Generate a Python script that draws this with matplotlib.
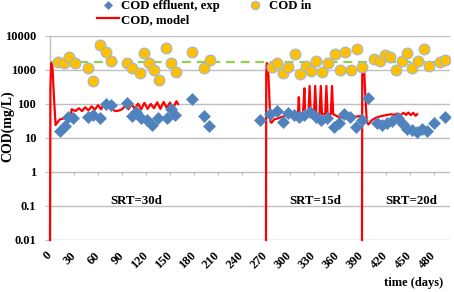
import numpy as np
import matplotlib
matplotlib.use('Agg')
import matplotlib.pyplot as plt
from matplotlib.lines import Line2D

plt.rcParams['font.family'] = ['Liberation Serif', 'DejaVu Serif']
plt.rcParams['font.weight'] = 'bold'

# COD effluent, measured (days, mg/L)
eff_day = [13, 19, 23, 29, 48, 54, 62, 70, 76, 96, 102, 108, 114, 121, 128, 135, 146, 151, 156,
           178, 192, 199,
           262, 275, 284, 291, 298, 305, 311, 318, 325, 332, 339, 346, 355, 361, 367, 375, 382, 390,
           397, 409, 415, 421, 428, 435, 441, 446, 452, 459, 465, 471, 480, 494]
eff_val = [16, 22, 41, 38, 42, 47, 38, 100, 94, 105, 44, 60, 38, 34, 24, 40, 38, 71, 47,
           137, 44, 22,
           34, 51, 62, 30, 53, 47, 41, 47, 59, 41, 35, 38, 21, 28, 51, 42, 21, 34,
           150, 28, 24, 27, 32, 38, 26, 19, 17, 15, 19, 16, 28, 41]

# COD in (days, mg/L)
in_day = [10, 17, 24, 31, 48, 54, 62, 70, 76, 96, 103, 112, 117, 124, 130, 136, 145, 151, 158,
          178, 192, 200,
          277, 284, 291, 298, 306, 313, 320, 326, 333, 340, 348, 356, 363, 369, 376, 384, 390,
          405, 413, 419, 425, 433, 440, 446, 452, 460, 467, 474, 487, 494]
in_val = [1680, 1570, 2360, 1570, 1120, 484, 5430, 3320, 1880, 1570, 1120, 800, 3100, 1570, 1000, 508, 4350, 1570, 890,
          3310, 1170, 1970,
          1250, 1640, 830, 1250, 2890, 760, 1310, 955, 1840, 890, 1570, 2890, 1000, 3450, 1000, 4150, 1200,
          2065, 1880, 2760, 2360, 1000, 1880, 3240, 1120, 1840, 4150, 1310, 1750, 1970]

cod_in_mean = 1720

# model, three SRT periods
m1_day = [0, 0.5, 1.5, 3, 5, 7, 9, 12, 18, 24, 26, 27, 32, 36, 40, 44, 48, 52, 56, 60, 64, 67, 70,
          74, 78, 82, 86, 90, 94, 98, 102, 106, 110, 114, 118, 122, 126, 130, 134, 138, 142, 146,
          150, 154, 158, 160]
m1_val = [0.01, 300, 1600, 1300, 150, 24, 28, 35, 38, 38, 40, 70, 62, 75, 62, 80, 65, 85, 68, 92, 70,
          100, 72, 90, 68, 62, 64, 70, 88, 70, 98, 72, 102, 70, 108, 72, 100, 75, 112, 72, 115, 76,
          110, 76, 120, 100]
m2_day = [270, 270.3, 271, 272.5, 274, 275.5, 277, 280, 285, 290, 295, 300, 305, 309, 310, 311, 312,
          316, 317, 318, 319, 323, 324.5, 326, 330, 331.5, 333, 337, 338.5, 340, 344, 345.5, 347,
          351, 352.5, 354, 358, 362, 370, 380, 388, 390]
m2_val = [0.01, 800, 1600, 1400, 200, 30, 28, 35, 38, 42, 45, 48, 50, 52, 50, 160, 50,
          50, 100, 290, 50, 50, 340, 50, 50, 340, 50, 50, 340, 50, 50, 340, 50,
          50, 340, 50, 45, 40, 40, 42, 44, 45]
m3_day = [390, 390.3, 391, 392.5, 394, 396, 398, 402, 408, 414, 420, 426, 430, 434, 438, 442, 445,
          448, 451, 454, 457, 459]
m3_val = [0.01, 800, 1600, 1400, 200, 30, 25, 33, 40, 44, 47, 50, 48, 52, 47, 55, 48,
          56, 47, 55, 45, 50]

x_ticks = list(range(0, 481, 30))
y_ticks = [0.01, 0.1, 1, 10, 100, 1000, 10000]
y_labels = ['0.01', '0.1', '1', '10', '100', '1000', '10000']
srt_text = ['SRT=30d', 'SRT=15d', 'SRT=20d']
srt_day = [108, 331, 452]

grid_c = '#BFBFBF'
red = '#FF0000'

fig = plt.figure(figsize=(4.54, 2.92), dpi=100)
ax = fig.add_axes([50/454, 1-240/292, 400/454, 204/292])

ax.set_yscale('log')
ax.set_ylim(0.01, 10000)
ax.set_xlim(0, 500)

for yv in y_ticks:
    ax.axhline(yv, color=grid_c, lw=1.0, zorder=0)

ax.axhline(cod_in_mean, color='#92D050', lw=1.6, dashes=(4, 2.6), zorder=1)
for d, v in [(m1_day, m1_val), (m2_day, m2_val), (m3_day, m3_val)]:
    ax.plot(d, v, color=red, lw=1.6, zorder=3, clip_on=False)
ax.plot(eff_day, eff_val, ls='none', marker='D', ms=6, mfc='#4F81BD', mec='#5B8AC3',
        mew=0.5, zorder=4)
ax.plot(in_day, in_val, ls='none', marker='o', ms=7.8, mfc='#FFC000', mec='#9DB8D9',
        mew=0.8, zorder=5)

for s, d in zip(srt_text, srt_day):
    ax.text(d, 0.14, s, ha='center', va='center', fontsize=9.3, fontweight='bold')

for sp in ['top', 'right', 'bottom']:
    ax.spines[sp].set_visible(False)
ax.spines['left'].set_color(grid_c)
ax.spines['left'].set_linewidth(1.0)
ax.spines['left'].set_zorder(0.5)

ax.set_yticks(y_ticks)
ax.set_yticklabels(y_labels)
ax.yaxis.set_minor_locator(matplotlib.ticker.NullLocator())
ax.tick_params(axis='y', length=3.5, width=0.8, color=grid_c, pad=6.5, labelsize=9)

ax.set_xticks(x_ticks)
ax.set_xticklabels([str(t) for t in x_ticks])
ax.tick_params(axis='x', length=0, pad=10, labelsize=9)
for lab in ax.get_xticklabels():
    lab.set_rotation(45)
    lab.set_ha('right')
    lab.set_va('center')
    lab.set_rotation_mode('anchor')

# tick marks sit on the y=1 gridline
sec = ax.secondary_xaxis(1/3)
sec.set_xticks(x_ticks)
sec.tick_params(axis='x', length=2.5, width=0.8, color=grid_c, labelbottom=False, labeltop=False)
for sp in sec.spines.values():
    sp.set_visible(False)

ax.set_ylabel('COD(mg/L)', fontsize=10, fontweight='bold')
ax.yaxis.set_label_coords(-0.09, 0.56)
ax.text(0.983, -0.211, 'time (days)', transform=ax.transAxes, ha='right', va='center',
        fontsize=9, fontweight='bold')

handles = [
    Line2D([], [], ls='none', marker='D', ms=4.5, mfc='#4F81BD', mec='#5B8AC3', mew=0.5),
    Line2D([], [], color=red, lw=1.6),
    Line2D([], [], ls='none', marker='o', ms=6, mfc='#FFC000', mec='#9DB8D9', mew=0.8),
]
labels = ['COD effluent, exp', 'COD, model', 'COD in']
fig.legend(handles, labels, loc='upper left', bbox_to_anchor=(97/454, 1.0), ncol=2,
           frameon=False, fontsize=9.2, handlelength=1.75, handletextpad=0.15,
           columnspacing=1.9, labelspacing=0.15, borderpad=0, borderaxespad=0)

fig.savefig('out.png', dpi=100)
